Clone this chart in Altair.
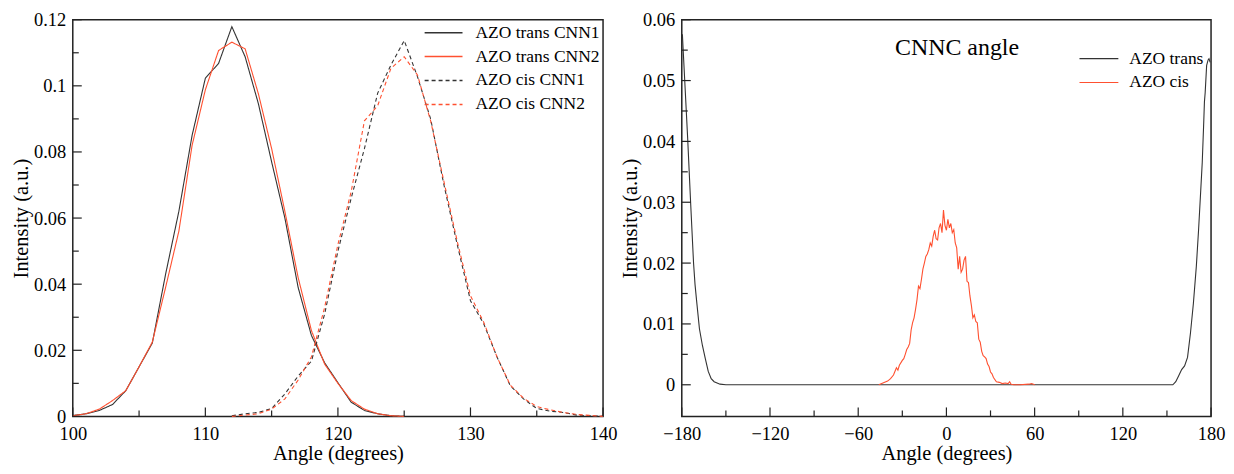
import altair as alt
import pandas as pd

FONT = "Liberation Serif, Times New Roman, serif"
BLACK = "#333333"
RED = "#FF5030"

# ---------- left panel data (CNNC bond angle, degrees) ----------
trans_angles = list(range(100, 126))
trans_cnn1 = [0.0003, 0.0008, 0.0018, 0.0036, 0.0078, 0.0150, 0.0222, 0.0430, 0.0620, 0.0850,
              0.1023, 0.1068, 0.1179, 0.1088, 0.0946, 0.0770, 0.0600, 0.0390, 0.0245, 0.0162,
              0.0102, 0.0043, 0.0018, 0.0008, 0.0002, 0.0]
trans_cnn2 = [0.0002, 0.0008, 0.0022, 0.0048, 0.0078, 0.0150, 0.0225, 0.0390, 0.0560, 0.0820,
              0.0988, 0.1107, 0.1132, 0.1112, 0.0976, 0.0810, 0.0620, 0.0420, 0.0260, 0.0158,
              0.0100, 0.0048, 0.0022, 0.0008, 0.0002, 0.0]
cis_angles = list(range(112, 141))
cis_cnn1 = [0.0002, 0.0008, 0.0012, 0.0024, 0.0068, 0.0122, 0.0167, 0.0310, 0.0500, 0.0660,
            0.0810, 0.0978, 0.1063, 0.1137, 0.1028, 0.0899, 0.0700, 0.0520, 0.0350, 0.0280,
            0.0180, 0.0093, 0.0053, 0.0024, 0.0016, 0.0012, 0.0004, 0.0002, 0.0]
cis_cnn2 = [0.0, 0.0004, 0.0008, 0.0022, 0.0053, 0.0110, 0.0180, 0.0330, 0.0520, 0.0680,
            0.0894, 0.0940, 0.1053, 0.1088, 0.1033, 0.0893, 0.0710, 0.0530, 0.0365, 0.0285,
            0.0180, 0.0095, 0.0055, 0.0030, 0.0020, 0.0012, 0.0006, 0.0003, 0.0]
left_series = ["AZO trans CNN1", "AZO trans CNN2", "AZO cis CNN1", "AZO cis CNN2"]

# ---------- right panel data (CNNC dihedral angle) ----------
dih_trans_angles = [-179.6, -178, -176, -174, -172, -171, -170, -168, -166, -164, -162, -160,
                    -158, -156, -154, -150, 154, 156, 158, 160, 162, 164, 165, 166, 168, 170,
                    171.5, 173, 174, 175, 175.5, 176, 177, 178, 178.6, 179.4]
dih_trans = [0.0576, 0.0500, 0.0405, 0.0300, 0.0200, 0.0165, 0.0140, 0.0092, 0.0065, 0.0043,
             0.0022, 0.0010, 0.0005, 0.0003, 0.0001, 0.0, 0.0, 0.0005, 0.0015, 0.0025, 0.0031,
             0.0045, 0.0065, 0.0085, 0.0134, 0.0195, 0.0254, 0.0320, 0.0365, 0.0430, 0.0465,
             0.0480, 0.0525, 0.0534, 0.0536, 0.0530]
dih_cis_angles = [-46, -44, -42, -40, -38, -36, -34, -33, -32, -30, -29, -28, -27, -26, -25,
                  -24, -23, -22, -21, -20, -19, -18, -17, -16, -15, -14, -13, -12, -11, -10,
                  -9, -8, -7, -6, -5, -4, -3, -2, -1, 0, 1, 2, 3, 4, 5, 6, 7, 8, 9, 10, 11, 12,
                  13, 14, 15, 16, 17, 18, 19, 20, 21, 22, 23, 24, 25, 26, 27, 28, 29, 30, 31,
                  32, 34, 36, 38, 40, 42, 43, 44, 46, 50, 56, 58, 60]
dih_cis = [0.0, 0.0002, 0.0004, 0.0006, 0.0010, 0.0016, 0.0028, 0.0024, 0.0032, 0.0040,
           0.0043, 0.0050, 0.0058, 0.0062, 0.0068, 0.0090, 0.0102, 0.0110, 0.0124, 0.0140,
           0.0162, 0.0158, 0.0173, 0.0190, 0.0200, 0.0211, 0.0215, 0.0222, 0.0233, 0.0228,
           0.0244, 0.0254, 0.0240, 0.0238, 0.0258, 0.0265, 0.0250, 0.0287, 0.0262, 0.0254,
           0.0272, 0.0258, 0.0265, 0.0250, 0.0255, 0.0233, 0.0225, 0.0190, 0.0211, 0.0185,
           0.0190, 0.0205, 0.0211, 0.0170, 0.0168, 0.0146, 0.0130, 0.0110, 0.0115, 0.0104,
           0.0102, 0.0075, 0.0070, 0.0055, 0.0048, 0.0046, 0.0043, 0.0034, 0.0030, 0.0021,
           0.0018, 0.0012, 0.0005, 0.0004, 0.0002, 0.0003, 0.0002, 0.0005, 0.0001, 0.0,
           0.0, 0.0001, 0.0002, 0.0]
right_series = ["AZO trans", "AZO cis"]

# ---------- tick values ----------
left_x_major = [100, 110, 120, 130, 140]
left_x_minor = [105, 115, 125, 135]
left_y_major = [0, 0.02, 0.04, 0.06, 0.08, 0.1, 0.12]
left_y_minor = [0.01, 0.03, 0.05, 0.07, 0.09, 0.11]
right_x_major = [-180, -120, -60, 0, 60, 120, 180]
right_x_minor = [-150, -90, -30, 30, 90, 150]
right_y_major = [0, 0.01, 0.02, 0.03, 0.04, 0.05, 0.06]
right_y_minor = [0.005, 0.015, 0.025, 0.035, 0.045, 0.055]

W1, W2, H = 532, 531, 398
MAJ, MIN = 9, 6
XTITLE = "Angle (degrees)"
YTITLE = "Intensity (a.u.)"

# ---------- build tables ----------
rows = []
for s, ang, vals in [(left_series[0], trans_angles, trans_cnn1),
                     (left_series[1], trans_angles, trans_cnn2),
                     (left_series[2], cis_angles, cis_cnn1),
                     (left_series[3], cis_angles, cis_cnn2)]:
    for i, (a, v) in enumerate(zip(ang, vals)):
        rows.append({"series": s, "angle": a, "value": v, "order": i})
left_df = pd.DataFrame(rows)

rows = []
for s, ang, vals in [(right_series[0], dih_trans_angles, dih_trans),
                     (right_series[1], dih_cis_angles, dih_cis)]:
    for i, (a, v) in enumerate(zip(ang, vals)):
        rows.append({"series": s, "angle": a, "value": v, "order": i})
right_df = pd.DataFrame(rows)

axis_common = dict(ticks=False, domain=False, grid=False, labelFont=FONT, labelFontSize=18.5,
                   labelColor="black", labelFlush=False, labelOverlap=False,
                   titleFont=FONT, titleFontSize=20.5,
                   titleFontWeight="normal", titleColor="black")


def xaxis(vals):
    return alt.Axis(values=vals, labelPadding=8, titlePadding=1, **axis_common)


def yaxis(vals):
    return alt.Axis(values=vals, format=".2~f", labelPadding=7, titlePadding=2, **axis_common)


def tick_layers(xscale, yscale, xmaj, xmin, ymaj, ymin, h):
    layers = []
    for vals, L in [(xmaj, MAJ), (xmin, MIN)]:
        layers.append(
            alt.Chart(pd.DataFrame({"t": vals})).mark_rule(color="#222", strokeWidth=1.2).encode(
                x=alt.X("t:Q", scale=xscale, title=XTITLE, axis=xaxis(xmaj)),
                y=alt.value(h), y2=alt.value(h - L)))
    for vals, L in [(ymaj, MAJ), (ymin, MIN)]:
        layers.append(
            alt.Chart(pd.DataFrame({"t": vals})).mark_rule(color="#222", strokeWidth=1.2).encode(
                y=alt.Y("t:Q", scale=yscale, title=YTITLE, axis=yaxis(ymaj)),
                x=alt.value(0), x2=alt.value(L)))
    return layers


def legend(x, y, size, sw, offset):
    return alt.Legend(title=None, orient="none", legendX=x, legendY=y,
                      symbolType="stroke", symbolSize=size, symbolStrokeWidth=sw,
                      clipHeight=18, rowPadding=6, labelOffset=offset,
                      labelFont=FONT, labelFontSize=17.5, labelColor="black")


# ---------- left panel ----------
lx = alt.Scale(domain=[100, 140], nice=False, zero=False)
ly = alt.Scale(domain=[0, 0.12], nice=False)

left_lines = alt.Chart(left_df).mark_line(strokeWidth=1.1).encode(
    x=alt.X("angle:Q", scale=lx, title=XTITLE, axis=xaxis(left_x_major)),
    y=alt.Y("value:Q", scale=ly, title=YTITLE, axis=yaxis(left_y_major)),
    color=alt.Color("series:N",
                    scale=alt.Scale(domain=left_series, range=[BLACK, RED, BLACK, RED]),
                    legend=legend(352, 4, 1444, 1.5, 12)),
    strokeDash=alt.StrokeDash("series:N",
                              scale=alt.Scale(domain=left_series,
                                              range=[[1, 0], [1, 0], [4, 3], [4, 3]]),
                              legend=legend(352, 4, 1444, 1.5, 12)),
    order="order:Q",
    detail="series:N",
)

left = alt.layer(left_lines,
                 *tick_layers(lx, ly, left_x_major, left_x_minor, left_y_major, left_y_minor, H)
                 ).properties(width=W1, height=H)

# ---------- right panel ----------
rx = alt.Scale(domain=[-180, 180], nice=False, zero=False)
ry = alt.Scale(domain=[-0.0052, 0.06], nice=False, zero=False)

right_lines = alt.Chart(right_df).mark_line(strokeWidth=1.1).encode(
    x=alt.X("angle:Q", scale=rx, title=XTITLE, axis=xaxis(right_x_major)),
    y=alt.Y("value:Q", scale=ry, title=YTITLE, axis=yaxis(right_y_major)),
    color=alt.Color("series:N",
                    scale=alt.Scale(domain=right_series, range=[BLACK, RED]),
                    legend=legend(398, 30, 1521, 1.2, 10)),
    order="order:Q",
    detail="series:N",
)

annot = alt.Chart(pd.DataFrame({"angle": [-35], "value": [0.0542], "label": ["CNNC angle"]})
                  ).mark_text(font=FONT, fontSize=24, align="left", baseline="alphabetic",
                              color="black").encode(
    x=alt.X("angle:Q", scale=rx, title=XTITLE, axis=xaxis(right_x_major)),
    y=alt.Y("value:Q", scale=ry, title=YTITLE, axis=yaxis(right_y_major)),
    text="label:N")

right = alt.layer(right_lines, annot,
                  *tick_layers(rx, ry, right_x_major, right_x_minor, right_y_major,
                               right_y_minor, H)
                  ).properties(width=W2, height=H)

chart = alt.hconcat(left, right, spacing=1).resolve_scale(
    color="independent", strokeDash="independent"
).resolve_legend(color="independent", strokeDash="independent").configure_view(
    stroke="#222", strokeWidth=1.5
).properties(padding={"left": 2, "top": 1, "right": 0, "bottom": 0}, background="white")

chart.save("out.html", embed_options={"renderer": "svg", "actions": False})
